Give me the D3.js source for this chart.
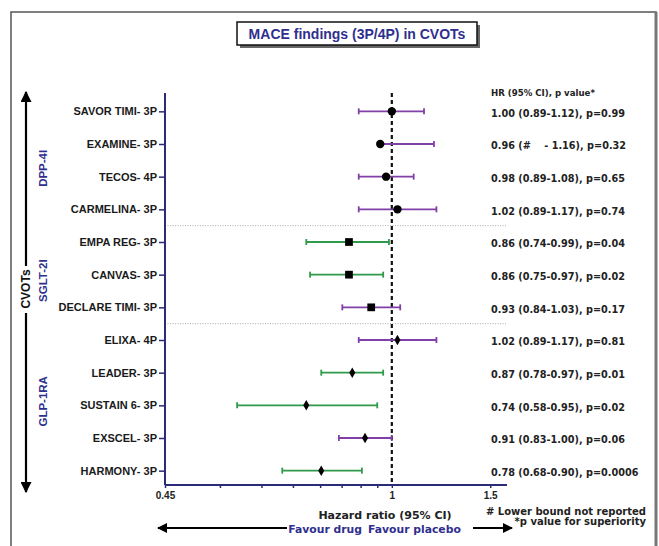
<!DOCTYPE html>
<html>
<head>
<meta charset="utf-8">
<script src="https://cdn.jsdelivr.net/npm/d3@7"></script>
<style>
  body { margin: 0; background: #fff; }
  text { font-family: "Liberation Sans", Arial, sans-serif; }
</style>
</head>
<body>
<div id="forest"></div>
<script>
// Trials, drug classes and results
const trials = ["SAVOR TIMI- 3P", "EXAMINE- 3P", "TECOS- 4P", "CARMELINA- 3P",
  "EMPA REG- 3P", "CANVAS- 3P", "DECLARE TIMI- 3P",
  "ELIXA- 4P", "LEADER- 3P", "SUSTAIN 6- 3P", "EXSCEL- 3P", "HARMONY- 3P"];
const drugClass = ["DPP-4I", "DPP-4I", "DPP-4I", "DPP-4I",
  "SGLT-2I", "SGLT-2I", "SGLT-2I",
  "GLP-1RA", "GLP-1RA", "GLP-1RA", "GLP-1RA", "GLP-1RA"];
const hazard = [1.00, 0.96, 0.98, 1.02, 0.86, 0.86, 0.93, 1.02, 0.87, 0.74, 0.91, 0.78];
const lowerCI = [0.89, null, 0.89, 0.89, 0.74, 0.75, 0.84, 0.89, 0.78, 0.58, 0.83, 0.68];
const upperCI = [1.12, 1.16, 1.08, 1.17, 0.99, 0.97, 1.03, 1.17, 0.97, 0.95, 1.00, 0.90];
const pValues = ["0.99", "0.32", "0.65", "0.74", "0.04", "0.02", "0.17", "0.81", "0.01", "0.02", "0.06", "0.0006"];

// x axis ticks
const majorTicks = [0.45, 1, 1.414];
const majorLabels = ["0.45", "1", "1.5"];
const minorTicks = [0.546, 0.632, 0.706, 0.777, 0.838, 0.896, 0.95];

const rows = trials.map((t, i) => ({
  trial: t, cls: drugClass[i], hr: hazard[i], lo: lowerCI[i], hi: upperCI[i], p: pValues[i]
}));

const W = 659, H = 546;
const navy = "#2f2f8f", axisCol = "#2b2b78";
const purple = "#8040a8", green = "#2e9a4a";
const wideFont = "'DejaVu Sans', Verdana, sans-serif";

const svg = d3.select("#forest").append("svg")
  .attr("width", W).attr("height", H);

// outer frame
svg.append("rect")
  .attr("x", 11).attr("y", 12).attr("width", 645).attr("height", 545)
  .attr("fill", "none").attr("stroke", "#555").attr("stroke-width", 1.5);
svg.append("line").attr("x1", 656).attr("x2", 656).attr("y1", 12).attr("y2", H)
  .attr("stroke", "#777").attr("stroke-width", 3);

// title box
svg.append("rect").attr("x", 240).attr("y", 25).attr("width", 240).attr("height", 23).attr("fill", "#666");
svg.append("rect").attr("x", 237).attr("y", 22).attr("width", 240).attr("height", 23)
  .attr("fill", "#fff").attr("stroke", "#111").attr("stroke-width", 1.5);
svg.append("text").attr("x", 357).attr("y", 34).attr("dy", "0.35em")
  .attr("text-anchor", "middle").attr("font-size", 14).attr("font-weight", "bold")
  .attr("fill", navy).text("MACE findings (3P/4P) in CVOTs");

const pLeft = 165, pRight = 507, pTop = 93, pBottom = 485;

const x = d3.scaleLog().domain([0.45, 1.5]).range([pLeft, pRight]);
const y = d3.scalePoint().domain(trials).range([pTop + 2, pBottom + 2]).padding(0.5);

// group separators
const groups = [...new Set(drugClass)];
groups.slice(1).forEach(g => {
  const first = rows.findIndex(r => r.cls === g);
  const yy = (y(trials[first - 1]) + y(trials[first])) / 2;
  svg.append("line")
    .attr("x1", pLeft).attr("x2", pRight).attr("y1", yy).attr("y2", yy)
    .attr("stroke", "#aaa").attr("stroke-width", 1).attr("stroke-dasharray", "1,1.5");
});

// reference line at HR = 1
svg.append("line")
  .attr("x1", x(1)).attr("x2", x(1)).attr("y1", pTop).attr("y2", pBottom)
  .attr("stroke", "#111").attr("stroke-width", 2.2).attr("stroke-dasharray", "4,3");

// y axis
const yAxis = svg.append("g")
  .attr("transform", `translate(${pLeft},0)`)
  .call(d3.axisLeft(y).tickSize(6).tickPadding(2));
yAxis.select(".domain").attr("d", `M0,${pTop}V${pBottom}`).attr("stroke", axisCol).attr("stroke-width", 2);
yAxis.selectAll(".tick line").attr("stroke", axisCol).attr("stroke-width", 1.5);
yAxis.selectAll(".tick text")
  .attr("font-size", 11).attr("font-weight", "bold").attr("fill", "#1a1a1a")
  .style("font-family", "'Liberation Sans', Arial, sans-serif");

// x axis
const xAxis = svg.append("g")
  .attr("transform", `translate(0,${pBottom})`)
  .call(d3.axisBottom(x)
    .tickValues(majorTicks.concat(minorTicks))
    .tickSize(3).tickPadding(4)
    .tickFormat(d => {
      const k = majorTicks.indexOf(d);
      return k >= 0 ? majorLabels[k] : "";
    }));
xAxis.select(".domain").attr("d", `M${pLeft},0H${pRight}`).attr("stroke", axisCol).attr("stroke-width", 2);
xAxis.selectAll(".tick line").attr("stroke", axisCol).attr("stroke-width", 1.5);
xAxis.selectAll(".tick text")
  .attr("font-size", 10).attr("font-weight", "bold").attr("fill", "#222")
  .style("font-family", "'Liberation Sans', Arial, sans-serif");

// error bars
const colorOf = d => (+d.p < 0.05 ? green : purple);
const capH = 3;
const bars = svg.append("g").selectAll("g")
  .data(rows).enter().append("g");

bars.append("line")
  .attr("x1", d => x(d.lo == null ? d.hr : d.lo))
  .attr("x2", d => x(d.hi))
  .attr("y1", d => y(d.trial)).attr("y2", d => y(d.trial))
  .attr("stroke", colorOf).attr("stroke-width", 1.8);

bars.filter(d => d.lo != null).append("line")
  .attr("x1", d => x(d.lo)).attr("x2", d => x(d.lo))
  .attr("y1", d => y(d.trial) - capH).attr("y2", d => y(d.trial) + capH)
  .attr("stroke", colorOf).attr("stroke-width", 1.8);

bars.append("line")
  .attr("x1", d => x(d.hi)).attr("x2", d => x(d.hi))
  .attr("y1", d => y(d.trial) - capH).attr("y2", d => y(d.trial) + capH)
  .attr("stroke", colorOf).attr("stroke-width", 1.8);

// markers, shape by drug class
const shapes = { "DPP-4I": [d3.symbolCircle, 55], "SGLT-2I": [d3.symbolSquare, 60], "GLP-1RA": [d3.symbolDiamond, 32] };
bars.append("path")
  .attr("transform", d => `translate(${x(d.hr)},${y(d.trial)})`)
  .attr("d", d => d3.symbol().type(shapes[d.cls][0]).size(shapes[d.cls][1])())
  .attr("fill", "#000");

// right column: HR (95% CI), p value
svg.append("text")
  .attr("x", 491).attr("y", 93).attr("dy", "0.35em")
  .style("font-family", wideFont).attr("font-size", 8.6).attr("font-weight", "bold")
  .attr("fill", "#222").text("HR (95% CI), p value*");

svg.append("g").selectAll("text")
  .data(rows).enter().append("text")
  .attr("x", 491).attr("y", d => y(d.trial) + 2).attr("dy", "0.35em")
  .style("font-family", wideFont).attr("font-size", 9.7).attr("font-weight", "bold")
  .attr("fill", "#222").style("white-space", "pre")
  .text(d => {
    const lo = d.lo == null ? "#   " : d.lo.toFixed(2);
    const sep = d.lo == null ? " - " : "-";
    return `${d.hr.toFixed(2)} (${lo}${sep}${d.hi.toFixed(2)}), p=${d.p}`;
  });

// footnotes
svg.append("text").attr("x", 646).attr("y", 511).attr("dy", "0.35em")
  .attr("text-anchor", "end").style("font-family", wideFont).attr("font-size", 10)
  .attr("font-weight", "bold").attr("fill", "#222").text("# Lower bound not reported");
svg.append("text").attr("x", 646).attr("y", 521.5).attr("dy", "0.35em")
  .attr("text-anchor", "end").style("font-family", wideFont).attr("font-size", 10)
  .attr("font-weight", "bold").attr("fill", "#222").text("*p value for superiority");

// arrow heads
const defs = svg.append("defs");
defs.append("marker").attr("id", "arrow")
  .attr("viewBox", "0 0 10 10").attr("refX", 9).attr("refY", 5)
  .attr("markerWidth", 5).attr("markerHeight", 5).attr("orient", "auto-start-reverse")
  .append("path").attr("d", "M0,0L10,5L0,10Z").attr("fill", "#000");

// x axis title and favour labels
svg.append("text").attr("x", 385).attr("y", 515).attr("dy", "0.35em")
  .attr("text-anchor", "middle").style("font-family", wideFont).attr("font-size", 11)
  .attr("font-weight", "bold").attr("fill", "#222").text("Hazard ratio (95% CI)");
svg.append("text").attr("x", 362).attr("y", 529).attr("dy", "0.35em")
  .attr("text-anchor", "end").style("font-family", wideFont).attr("font-size", 10.8)
  .attr("font-weight", "bold").attr("fill", navy).text("Favour drug");
svg.append("text").attr("x", 368).attr("y", 529).attr("dy", "0.35em")
  .attr("text-anchor", "start").style("font-family", wideFont).attr("font-size", 10.8)
  .attr("font-weight", "bold").attr("fill", navy).text("Favour placebo");
svg.append("line").attr("x1", 287).attr("x2", 158).attr("y1", 528).attr("y2", 528)
  .attr("stroke", "#000").attr("stroke-width", 2).attr("marker-end", "url(#arrow)");
svg.append("line").attr("x1", 473).attr("x2", 512).attr("y1", 528).attr("y2", 528)
  .attr("stroke", "#000").attr("stroke-width", 2).attr("marker-end", "url(#arrow)");

// left vertical CVOTs arrow
svg.append("line").attr("x1", 26).attr("x2", 26).attr("y1", 266).attr("y2", 92)
  .attr("stroke", "#000").attr("stroke-width", 2.2).attr("marker-end", "url(#arrow)");
svg.append("line").attr("x1", 26).attr("x2", 26).attr("y1", 313).attr("y2", 492)
  .attr("stroke", "#000").attr("stroke-width", 2.2).attr("marker-end", "url(#arrow)");
svg.append("text").attr("transform", "translate(26,289) rotate(-90)").attr("dy", "0.35em")
  .attr("text-anchor", "middle").attr("font-size", 12).attr("font-weight", "bold")
  .attr("fill", "#111").text("CVOTs");

// drug class labels
const classOffset = { "DPP-4I": 8, "SGLT-2I": 6, "GLP-1RA": -4 };
groups.forEach(g => {
  const ys = rows.filter(r => r.cls === g).map(r => y(r.trial));
  const cy = (d3.min(ys) + d3.max(ys)) / 2 + classOffset[g];
  svg.append("text").attr("transform", `translate(43,${cy}) rotate(-90)`).attr("dy", "0.35em")
    .attr("text-anchor", "middle").attr("font-size", 11.5).attr("font-weight", "bold")
    .attr("fill", navy).text(g);
});
</script>
</body>
</html>
